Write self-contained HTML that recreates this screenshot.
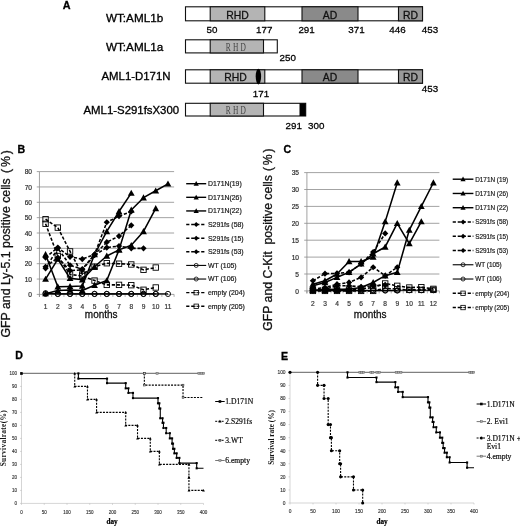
<!DOCTYPE html>
<html><head><meta charset="utf-8"><title>Figure</title>
<style>html,body{margin:0;padding:0;background:#fff;}svg{display:block;filter:blur(0.4px);}text{white-space:pre;}</style>
</head><body>
<svg width="520" height="526" viewBox="0 0 520 526">
<rect width="520" height="526" fill="#fff"/>
<text x="62.80" y="8.60" font-family='"Liberation Sans", sans-serif' font-size="10.8" text-anchor="start" font-weight="bold" fill="#000" stroke="#000" stroke-width="0.302" >A</text>
<text x="106.00" y="21.60" font-family='"Liberation Sans", sans-serif' font-size="11.7" text-anchor="start" font-weight="normal" fill="#000" stroke="#000" stroke-width="0.328" >WT:AML1b</text>
<text x="106.00" y="50.60" font-family='"Liberation Sans", sans-serif' font-size="11.7" text-anchor="start" font-weight="normal" fill="#000" stroke="#000" stroke-width="0.328" >WT:AML1a</text>
<text x="101.50" y="80.30" font-family='"Liberation Sans", sans-serif' font-size="11.4" text-anchor="start" font-weight="normal" fill="#000" stroke="#000" stroke-width="0.319" >AML1-D171N</text>
<text x="83.50" y="114.30" font-family='"Liberation Sans", sans-serif' font-size="11.4" text-anchor="start" font-weight="normal" fill="#000" stroke="#000" stroke-width="0.319" >AML1-S291fsX300</text>
<rect x="185.5" y="6.8" width="237.0" height="14.0" fill="#fff" stroke="#111" stroke-width="1.1"/>
<rect x="210.2" y="6.8" width="54.60000000000002" height="14.0" fill="#b4b4b4" stroke="#111" stroke-width="1.1"/>
<rect x="302" y="6.8" width="56" height="14.0" fill="#8a8a8a" stroke="#111" stroke-width="1.1"/>
<rect x="398.5" y="6.8" width="24.0" height="14.0" fill="#9a9a9a" stroke="#111" stroke-width="1.1"/>
<text x="237.60" y="18.60" font-family='"Liberation Sans", sans-serif' font-size="10.4" text-anchor="middle" font-weight="normal" fill="#111" stroke="#111" stroke-width="0.291" >RHD</text>
<text x="330.00" y="18.60" font-family='"Liberation Sans", sans-serif' font-size="10.4" text-anchor="middle" font-weight="normal" fill="#111" stroke="#111" stroke-width="0.291" >AD</text>
<text x="410.50" y="18.60" font-family='"Liberation Sans", sans-serif' font-size="10.4" text-anchor="middle" font-weight="normal" fill="#111" stroke="#111" stroke-width="0.291" >RD</text>
<text x="212.00" y="33.20" font-family='"Liberation Sans", sans-serif' font-size="9.8" text-anchor="middle" font-weight="normal" fill="#000" stroke="#000" stroke-width="0.274" >50</text>
<text x="264.30" y="33.20" font-family='"Liberation Sans", sans-serif' font-size="9.8" text-anchor="middle" font-weight="normal" fill="#000" stroke="#000" stroke-width="0.274" >177</text>
<text x="306.60" y="33.20" font-family='"Liberation Sans", sans-serif' font-size="9.8" text-anchor="middle" font-weight="normal" fill="#000" stroke="#000" stroke-width="0.274" >291</text>
<text x="356.50" y="33.20" font-family='"Liberation Sans", sans-serif' font-size="9.8" text-anchor="middle" font-weight="normal" fill="#000" stroke="#000" stroke-width="0.274" >371</text>
<text x="397.50" y="33.20" font-family='"Liberation Sans", sans-serif' font-size="9.8" text-anchor="middle" font-weight="normal" fill="#000" stroke="#000" stroke-width="0.274" >446</text>
<text x="430.00" y="33.20" font-family='"Liberation Sans", sans-serif' font-size="9.8" text-anchor="middle" font-weight="normal" fill="#000" stroke="#000" stroke-width="0.274" >453</text>
<rect x="185.5" y="39.8" width="91.80000000000001" height="13.100000000000001" fill="#fff" stroke="#111" stroke-width="1.1"/>
<rect x="210.2" y="39.8" width="53.30000000000001" height="13.100000000000001" fill="#b4b4b4" stroke="#111" stroke-width="1.1"/>
<text transform="translate(237,50.6) scale(0.62,1)" font-family='"Liberation Serif", serif' font-size="12" text-anchor="middle" fill="#444" letter-spacing="3.6">RHD</text>
<text x="287.70" y="60.60" font-family='"Liberation Sans", sans-serif' font-size="9.8" text-anchor="middle" font-weight="normal" fill="#000" stroke="#000" stroke-width="0.274" >250</text>
<rect x="185.5" y="69.8" width="237.0" height="13.400000000000006" fill="#fff" stroke="#111" stroke-width="1.1"/>
<rect x="210.2" y="69.8" width="54.60000000000002" height="13.400000000000006" fill="#b4b4b4" stroke="#111" stroke-width="1.1"/>
<rect x="302" y="69.8" width="56" height="13.400000000000006" fill="#8a8a8a" stroke="#111" stroke-width="1.1"/>
<rect x="398.5" y="69.8" width="24.0" height="13.400000000000006" fill="#9a9a9a" stroke="#111" stroke-width="1.1"/>
<text x="235.50" y="80.60" font-family='"Liberation Sans", sans-serif' font-size="10.4" text-anchor="middle" font-weight="normal" fill="#111" stroke="#111" stroke-width="0.291" >RHD</text>
<text x="330.00" y="80.60" font-family='"Liberation Sans", sans-serif' font-size="10.4" text-anchor="middle" font-weight="normal" fill="#111" stroke="#111" stroke-width="0.291" >AD</text>
<text x="410.50" y="80.60" font-family='"Liberation Sans", sans-serif' font-size="10.4" text-anchor="middle" font-weight="normal" fill="#111" stroke="#111" stroke-width="0.291" >RD</text>
<ellipse cx="258.4" cy="76.6" rx="2.7" ry="7.8" fill="#000"/>
<text x="261.00" y="96.70" font-family='"Liberation Sans", sans-serif' font-size="9.8" text-anchor="middle" font-weight="normal" fill="#000" stroke="#000" stroke-width="0.274" >171</text>
<text x="430.00" y="92.00" font-family='"Liberation Sans", sans-serif' font-size="9.8" text-anchor="middle" font-weight="normal" fill="#000" stroke="#000" stroke-width="0.274" >453</text>
<rect x="185.5" y="103.3" width="120.19999999999999" height="12.700000000000003" fill="#fff" stroke="#111" stroke-width="1.1"/>
<rect x="210.2" y="103.3" width="53.30000000000001" height="12.700000000000003" fill="#b4b4b4" stroke="#111" stroke-width="1.1"/>
<rect x="299.5" y="103.3" width="6.2" height="12.700000000000003" fill="#000"/>
<text transform="translate(237,114) scale(0.62,1)" font-family='"Liberation Serif", serif' font-size="12" text-anchor="middle" fill="#444" letter-spacing="3.6">RHD</text>
<text x="293.70" y="129.00" font-family='"Liberation Sans", sans-serif' font-size="9.8" text-anchor="middle" font-weight="normal" fill="#000" stroke="#000" stroke-width="0.274" >291</text>
<text x="316.20" y="129.00" font-family='"Liberation Sans", sans-serif' font-size="9.8" text-anchor="middle" font-weight="normal" fill="#000" stroke="#000" stroke-width="0.274" >300</text>
<text x="17.60" y="152.60" font-family='"Liberation Sans", sans-serif' font-size="10.6" text-anchor="start" font-weight="bold" fill="#000" stroke="#000" stroke-width="0.297" >B</text>
<line x1="36.75" y1="294.40" x2="39.45" y2="294.40" stroke="#8c8c8c" stroke-width="0.8"/>
<text x="32.00" y="297.00" font-family='"Liberation Sans", sans-serif' font-size="6.6" text-anchor="end" font-weight="normal" fill="#2a2a2a" stroke="#2a2a2a" stroke-width="0.185" >0</text>
<line x1="39.45" y1="279.05" x2="174.1" y2="279.05" stroke="#8c8c8c" stroke-width="0.8"/>
<line x1="36.75" y1="279.05" x2="39.45" y2="279.05" stroke="#8c8c8c" stroke-width="0.8"/>
<text x="32.00" y="281.65" font-family='"Liberation Sans", sans-serif' font-size="6.6" text-anchor="end" font-weight="normal" fill="#2a2a2a" stroke="#2a2a2a" stroke-width="0.185" >10</text>
<line x1="39.45" y1="263.70" x2="174.1" y2="263.70" stroke="#8c8c8c" stroke-width="0.8"/>
<line x1="36.75" y1="263.70" x2="39.45" y2="263.70" stroke="#8c8c8c" stroke-width="0.8"/>
<text x="32.00" y="266.30" font-family='"Liberation Sans", sans-serif' font-size="6.6" text-anchor="end" font-weight="normal" fill="#2a2a2a" stroke="#2a2a2a" stroke-width="0.185" >20</text>
<line x1="39.45" y1="248.35" x2="174.1" y2="248.35" stroke="#8c8c8c" stroke-width="0.8"/>
<line x1="36.75" y1="248.35" x2="39.45" y2="248.35" stroke="#8c8c8c" stroke-width="0.8"/>
<text x="32.00" y="250.95" font-family='"Liberation Sans", sans-serif' font-size="6.6" text-anchor="end" font-weight="normal" fill="#2a2a2a" stroke="#2a2a2a" stroke-width="0.185" >30</text>
<line x1="39.45" y1="233.00" x2="174.1" y2="233.00" stroke="#8c8c8c" stroke-width="0.8"/>
<line x1="36.75" y1="233.00" x2="39.45" y2="233.00" stroke="#8c8c8c" stroke-width="0.8"/>
<text x="32.00" y="235.60" font-family='"Liberation Sans", sans-serif' font-size="6.6" text-anchor="end" font-weight="normal" fill="#2a2a2a" stroke="#2a2a2a" stroke-width="0.185" >40</text>
<line x1="39.45" y1="217.65" x2="174.1" y2="217.65" stroke="#8c8c8c" stroke-width="0.8"/>
<line x1="36.75" y1="217.65" x2="39.45" y2="217.65" stroke="#8c8c8c" stroke-width="0.8"/>
<text x="32.00" y="220.25" font-family='"Liberation Sans", sans-serif' font-size="6.6" text-anchor="end" font-weight="normal" fill="#2a2a2a" stroke="#2a2a2a" stroke-width="0.185" >50</text>
<line x1="39.45" y1="202.30" x2="174.1" y2="202.30" stroke="#8c8c8c" stroke-width="0.8"/>
<line x1="36.75" y1="202.30" x2="39.45" y2="202.30" stroke="#8c8c8c" stroke-width="0.8"/>
<text x="32.00" y="204.90" font-family='"Liberation Sans", sans-serif' font-size="6.6" text-anchor="end" font-weight="normal" fill="#2a2a2a" stroke="#2a2a2a" stroke-width="0.185" >60</text>
<line x1="39.45" y1="186.95" x2="174.1" y2="186.95" stroke="#8c8c8c" stroke-width="0.8"/>
<line x1="36.75" y1="186.95" x2="39.45" y2="186.95" stroke="#8c8c8c" stroke-width="0.8"/>
<text x="32.00" y="189.55" font-family='"Liberation Sans", sans-serif' font-size="6.6" text-anchor="end" font-weight="normal" fill="#2a2a2a" stroke="#2a2a2a" stroke-width="0.185" >70</text>
<line x1="39.45" y1="171.60" x2="174.1" y2="171.60" stroke="#8c8c8c" stroke-width="0.8"/>
<line x1="36.75" y1="171.60" x2="39.45" y2="171.60" stroke="#8c8c8c" stroke-width="0.8"/>
<text x="32.00" y="174.20" font-family='"Liberation Sans", sans-serif' font-size="6.6" text-anchor="end" font-weight="normal" fill="#2a2a2a" stroke="#2a2a2a" stroke-width="0.185" >80</text>
<line x1="39.45" y1="171.6" x2="39.45" y2="296.9" stroke="#8c8c8c" stroke-width="0.8"/>
<line x1="39.45" y1="294.4" x2="174.1" y2="294.4" stroke="#8c8c8c" stroke-width="0.8"/>
<line x1="39.45" y1="294.4" x2="39.45" y2="296.9" stroke="#8c8c8c" stroke-width="0.7"/>
<line x1="51.69" y1="294.4" x2="51.69" y2="296.9" stroke="#8c8c8c" stroke-width="0.7"/>
<line x1="63.93" y1="294.4" x2="63.93" y2="296.9" stroke="#8c8c8c" stroke-width="0.7"/>
<line x1="76.17" y1="294.4" x2="76.17" y2="296.9" stroke="#8c8c8c" stroke-width="0.7"/>
<line x1="88.41" y1="294.4" x2="88.41" y2="296.9" stroke="#8c8c8c" stroke-width="0.7"/>
<line x1="100.65" y1="294.4" x2="100.65" y2="296.9" stroke="#8c8c8c" stroke-width="0.7"/>
<line x1="112.90" y1="294.4" x2="112.90" y2="296.9" stroke="#8c8c8c" stroke-width="0.7"/>
<line x1="125.14" y1="294.4" x2="125.14" y2="296.9" stroke="#8c8c8c" stroke-width="0.7"/>
<line x1="137.38" y1="294.4" x2="137.38" y2="296.9" stroke="#8c8c8c" stroke-width="0.7"/>
<line x1="149.62" y1="294.4" x2="149.62" y2="296.9" stroke="#8c8c8c" stroke-width="0.7"/>
<line x1="161.86" y1="294.4" x2="161.86" y2="296.9" stroke="#8c8c8c" stroke-width="0.7"/>
<line x1="174.10" y1="294.4" x2="174.10" y2="296.9" stroke="#8c8c8c" stroke-width="0.7"/>
<text x="45.57" y="309.00" font-family='"Liberation Sans", sans-serif' font-size="6.6" text-anchor="middle" font-weight="normal" fill="#333" stroke="#333" stroke-width="0.185" >1</text>
<text x="57.81" y="309.00" font-family='"Liberation Sans", sans-serif' font-size="6.6" text-anchor="middle" font-weight="normal" fill="#333" stroke="#333" stroke-width="0.185" >2</text>
<text x="70.05" y="309.00" font-family='"Liberation Sans", sans-serif' font-size="6.6" text-anchor="middle" font-weight="normal" fill="#333" stroke="#333" stroke-width="0.185" >3</text>
<text x="82.29" y="309.00" font-family='"Liberation Sans", sans-serif' font-size="6.6" text-anchor="middle" font-weight="normal" fill="#333" stroke="#333" stroke-width="0.185" >4</text>
<text x="94.53" y="309.00" font-family='"Liberation Sans", sans-serif' font-size="6.6" text-anchor="middle" font-weight="normal" fill="#333" stroke="#333" stroke-width="0.185" >5</text>
<text x="106.77" y="309.00" font-family='"Liberation Sans", sans-serif' font-size="6.6" text-anchor="middle" font-weight="normal" fill="#333" stroke="#333" stroke-width="0.185" >6</text>
<text x="119.02" y="309.00" font-family='"Liberation Sans", sans-serif' font-size="6.6" text-anchor="middle" font-weight="normal" fill="#333" stroke="#333" stroke-width="0.185" >7</text>
<text x="131.26" y="309.00" font-family='"Liberation Sans", sans-serif' font-size="6.6" text-anchor="middle" font-weight="normal" fill="#333" stroke="#333" stroke-width="0.185" >8</text>
<text x="143.50" y="309.00" font-family='"Liberation Sans", sans-serif' font-size="6.6" text-anchor="middle" font-weight="normal" fill="#333" stroke="#333" stroke-width="0.185" >9</text>
<text x="155.74" y="309.00" font-family='"Liberation Sans", sans-serif' font-size="6.6" text-anchor="middle" font-weight="normal" fill="#333" stroke="#333" stroke-width="0.185" >10</text>
<text x="167.98" y="309.00" font-family='"Liberation Sans", sans-serif' font-size="6.6" text-anchor="middle" font-weight="normal" fill="#333" stroke="#333" stroke-width="0.185" >11</text>
<polyline points="45.57,219.19 57.81,227.63 70.05,251.42 82.29,274.44 94.53,266.77 106.77,263.24 119.02,263.70 131.26,264.47 143.50,269.84 155.74,267.54" fill="none" stroke="#000" stroke-width="1.55" stroke-dasharray="3.2,1.8" stroke-linejoin="round"/>
<rect x="42.87" y="216.49" width="5.4" height="5.4" fill="none" stroke="#000" stroke-width="0.9"/>
<rect x="55.11" y="224.93" width="5.4" height="5.4" fill="none" stroke="#000" stroke-width="0.9"/>
<rect x="67.35" y="248.72" width="5.4" height="5.4" fill="none" stroke="#000" stroke-width="0.9"/>
<rect x="79.59" y="271.75" width="5.4" height="5.4" fill="none" stroke="#000" stroke-width="0.9"/>
<rect x="91.83" y="264.07" width="5.4" height="5.4" fill="none" stroke="#000" stroke-width="0.9"/>
<rect x="104.07" y="260.54" width="5.4" height="5.4" fill="none" stroke="#000" stroke-width="0.9"/>
<rect x="116.32" y="261.00" width="5.4" height="5.4" fill="none" stroke="#000" stroke-width="0.9"/>
<rect x="128.56" y="261.77" width="5.4" height="5.4" fill="none" stroke="#000" stroke-width="0.9"/>
<rect x="140.80" y="267.14" width="5.4" height="5.4" fill="none" stroke="#000" stroke-width="0.9"/>
<rect x="153.04" y="264.84" width="5.4" height="5.4" fill="none" stroke="#000" stroke-width="0.9"/>
<polyline points="45.57,223.79 57.81,256.02 70.05,274.44 82.29,275.98 94.53,280.58 106.77,284.88 119.02,284.88 131.26,285.19 143.50,289.79 155.74,287.49" fill="none" stroke="#000" stroke-width="1.55" stroke-dasharray="3.2,1.8" stroke-linejoin="round"/>
<rect x="42.87" y="221.09" width="5.4" height="5.4" fill="none" stroke="#000" stroke-width="0.9"/>
<rect x="55.11" y="253.32" width="5.4" height="5.4" fill="none" stroke="#000" stroke-width="0.9"/>
<rect x="67.35" y="271.75" width="5.4" height="5.4" fill="none" stroke="#000" stroke-width="0.9"/>
<rect x="79.59" y="273.28" width="5.4" height="5.4" fill="none" stroke="#000" stroke-width="0.9"/>
<rect x="91.83" y="277.88" width="5.4" height="5.4" fill="none" stroke="#000" stroke-width="0.9"/>
<rect x="104.07" y="282.18" width="5.4" height="5.4" fill="none" stroke="#000" stroke-width="0.9"/>
<rect x="116.32" y="282.18" width="5.4" height="5.4" fill="none" stroke="#000" stroke-width="0.9"/>
<rect x="128.56" y="282.49" width="5.4" height="5.4" fill="none" stroke="#000" stroke-width="0.9"/>
<rect x="140.80" y="287.09" width="5.4" height="5.4" fill="none" stroke="#000" stroke-width="0.9"/>
<rect x="153.04" y="284.79" width="5.4" height="5.4" fill="none" stroke="#000" stroke-width="0.9"/>
<polyline points="45.57,293.94 57.81,293.94 70.05,293.94 82.29,293.94 94.53,293.94 106.77,293.94 119.02,293.94 131.26,293.94 143.50,293.94 155.74,293.94 167.98,293.94" fill="none" stroke="#000" stroke-width="1.15" stroke-linejoin="round"/>
<circle cx="45.57" cy="293.94" r="2.6" fill="none" stroke="#000" stroke-width="0.9"/>
<circle cx="57.81" cy="293.94" r="2.6" fill="none" stroke="#000" stroke-width="0.9"/>
<circle cx="70.05" cy="293.94" r="2.6" fill="none" stroke="#000" stroke-width="0.9"/>
<circle cx="82.29" cy="293.94" r="2.6" fill="none" stroke="#000" stroke-width="0.9"/>
<circle cx="94.53" cy="293.94" r="2.6" fill="none" stroke="#000" stroke-width="0.9"/>
<circle cx="106.77" cy="293.94" r="2.6" fill="none" stroke="#000" stroke-width="0.9"/>
<circle cx="119.02" cy="293.94" r="2.6" fill="none" stroke="#000" stroke-width="0.9"/>
<circle cx="131.26" cy="293.94" r="2.6" fill="none" stroke="#000" stroke-width="0.9"/>
<circle cx="143.50" cy="293.94" r="2.6" fill="none" stroke="#000" stroke-width="0.9"/>
<circle cx="155.74" cy="293.94" r="2.6" fill="none" stroke="#000" stroke-width="0.9"/>
<circle cx="167.98" cy="293.94" r="2.6" fill="none" stroke="#000" stroke-width="0.9"/>
<polyline points="45.57,293.17 57.81,293.94 70.05,293.94 82.29,293.94 94.53,293.94 106.77,293.94 119.02,293.94 131.26,293.94 143.50,293.94 155.74,293.94" fill="none" stroke="#000" stroke-width="1.15" stroke-linejoin="round"/>
<circle cx="45.57" cy="293.17" r="2.6" fill="none" stroke="#000" stroke-width="0.9"/>
<circle cx="57.81" cy="293.94" r="2.6" fill="none" stroke="#000" stroke-width="0.9"/>
<circle cx="70.05" cy="293.94" r="2.6" fill="none" stroke="#000" stroke-width="0.9"/>
<circle cx="82.29" cy="293.94" r="2.6" fill="none" stroke="#000" stroke-width="0.9"/>
<circle cx="94.53" cy="293.94" r="2.6" fill="none" stroke="#000" stroke-width="0.9"/>
<circle cx="106.77" cy="293.94" r="2.6" fill="none" stroke="#000" stroke-width="0.9"/>
<circle cx="119.02" cy="293.94" r="2.6" fill="none" stroke="#000" stroke-width="0.9"/>
<circle cx="131.26" cy="293.94" r="2.6" fill="none" stroke="#000" stroke-width="0.9"/>
<circle cx="143.50" cy="293.94" r="2.6" fill="none" stroke="#000" stroke-width="0.9"/>
<circle cx="155.74" cy="293.94" r="2.6" fill="none" stroke="#000" stroke-width="0.9"/>
<polyline points="45.57,257.56 57.81,247.58 70.05,256.79 82.29,259.09 94.53,254.49 106.77,222.25 119.02,216.12 131.26,211.51" fill="none" stroke="#000" stroke-width="1.55" stroke-dasharray="3.2,1.8" stroke-linejoin="round"/>
<path d="M45.57,254.46 L48.67,257.56 L45.57,260.66 L42.47,257.56 Z" fill="#000"/>
<path d="M57.81,244.48 L60.91,247.58 L57.81,250.68 L54.71,247.58 Z" fill="#000"/>
<path d="M70.05,253.69 L73.15,256.79 L70.05,259.89 L66.95,256.79 Z" fill="#000"/>
<path d="M82.29,255.99 L85.39,259.09 L82.29,262.19 L79.19,259.09 Z" fill="#000"/>
<path d="M94.53,251.39 L97.63,254.49 L94.53,257.59 L91.43,254.49 Z" fill="#000"/>
<path d="M106.77,219.16 L109.87,222.25 L106.77,225.35 L103.67,222.25 Z" fill="#000"/>
<path d="M119.02,213.02 L122.12,216.12 L119.02,219.22 L115.92,216.12 Z" fill="#000"/>
<path d="M131.26,208.41 L134.36,211.51 L131.26,214.61 L128.16,211.51 Z" fill="#000"/>
<polyline points="45.57,268.31 57.81,248.35 70.05,265.23 82.29,269.07 94.53,254.49 106.77,242.21 119.02,236.07 131.26,225.32" fill="none" stroke="#000" stroke-width="1.55" stroke-dasharray="3.2,1.8" stroke-linejoin="round"/>
<path d="M45.57,265.20 L48.67,268.31 L45.57,271.41 L42.47,268.31 Z" fill="#000"/>
<path d="M57.81,245.25 L60.91,248.35 L57.81,251.45 L54.71,248.35 Z" fill="#000"/>
<path d="M70.05,262.13 L73.15,265.23 L70.05,268.33 L66.95,265.23 Z" fill="#000"/>
<path d="M82.29,265.97 L85.39,269.07 L82.29,272.17 L79.19,269.07 Z" fill="#000"/>
<path d="M94.53,251.39 L97.63,254.49 L94.53,257.59 L91.43,254.49 Z" fill="#000"/>
<path d="M106.77,239.11 L109.87,242.21 L106.77,245.31 L103.67,242.21 Z" fill="#000"/>
<path d="M119.02,232.97 L122.12,236.07 L119.02,239.17 L115.92,236.07 Z" fill="#000"/>
<path d="M131.26,222.22 L134.36,225.32 L131.26,228.42 L128.16,225.32 Z" fill="#000"/>
<polyline points="45.57,266.77 57.81,257.56 70.05,270.61 82.29,269.84 94.53,255.26 106.77,247.58 119.02,246.05 131.26,248.35 143.50,248.35" fill="none" stroke="#000" stroke-width="1.55" stroke-dasharray="3.2,1.8" stroke-linejoin="round"/>
<path d="M45.57,263.67 L48.67,266.77 L45.57,269.87 L42.47,266.77 Z" fill="#000"/>
<path d="M57.81,254.46 L60.91,257.56 L57.81,260.66 L54.71,257.56 Z" fill="#000"/>
<path d="M70.05,267.51 L73.15,270.61 L70.05,273.71 L66.95,270.61 Z" fill="#000"/>
<path d="M82.29,266.74 L85.39,269.84 L82.29,272.94 L79.19,269.84 Z" fill="#000"/>
<path d="M94.53,252.16 L97.63,255.26 L94.53,258.36 L91.43,255.26 Z" fill="#000"/>
<path d="M106.77,244.48 L109.87,247.58 L106.77,250.68 L103.67,247.58 Z" fill="#000"/>
<path d="M119.02,242.95 L122.12,246.05 L119.02,249.15 L115.92,246.05 Z" fill="#000"/>
<path d="M131.26,245.25 L134.36,248.35 L131.26,251.45 L128.16,248.35 Z" fill="#000"/>
<path d="M143.50,245.25 L146.60,248.35 L143.50,251.45 L140.40,248.35 Z" fill="#000"/>
<polyline points="45.57,279.05 57.81,259.09 70.05,278.28 82.29,279.82 94.53,266.77 106.77,256.02 119.02,249.88 131.26,245.28 143.50,231.46 155.74,208.44" fill="none" stroke="#000" stroke-width="1.55" stroke-linejoin="round"/>
<path d="M45.57,275.65 L48.97,281.77 L42.17,281.77 Z" fill="#000"/>
<path d="M57.81,255.69 L61.21,261.81 L54.41,261.81 Z" fill="#000"/>
<path d="M70.05,274.88 L73.45,281.00 L66.65,281.00 Z" fill="#000"/>
<path d="M82.29,276.42 L85.69,282.54 L78.89,282.54 Z" fill="#000"/>
<path d="M94.53,263.37 L97.93,269.49 L91.13,269.49 Z" fill="#000"/>
<path d="M106.77,252.62 L110.17,258.75 L103.37,258.75 Z" fill="#000"/>
<path d="M119.02,246.48 L122.42,252.60 L115.62,252.60 Z" fill="#000"/>
<path d="M131.26,241.88 L134.66,248.00 L127.86,248.00 Z" fill="#000"/>
<path d="M143.50,228.06 L146.90,234.18 L140.10,234.18 Z" fill="#000"/>
<path d="M155.74,205.04 L159.14,211.16 L152.34,211.16 Z" fill="#000"/>
<polyline points="45.57,254.49 57.81,286.72 70.05,286.42 82.29,285.96 94.53,254.49 106.77,231.46 119.02,211.51 131.26,193.09" fill="none" stroke="#000" stroke-width="1.55" stroke-linejoin="round"/>
<path d="M45.57,251.09 L48.97,257.21 L42.17,257.21 Z" fill="#000"/>
<path d="M57.81,283.32 L61.21,289.44 L54.41,289.44 Z" fill="#000"/>
<path d="M70.05,283.02 L73.45,289.14 L66.65,289.14 Z" fill="#000"/>
<path d="M82.29,282.56 L85.69,288.68 L78.89,288.68 Z" fill="#000"/>
<path d="M94.53,251.09 L97.93,257.21 L91.13,257.21 Z" fill="#000"/>
<path d="M106.77,228.06 L110.17,234.18 L103.37,234.18 Z" fill="#000"/>
<path d="M119.02,208.11 L122.42,214.23 L115.62,214.23 Z" fill="#000"/>
<path d="M131.26,189.69 L134.66,195.81 L127.86,195.81 Z" fill="#000"/>
<polyline points="45.57,293.63 57.81,290.56 70.05,290.10 82.29,290.56 94.53,285.19 106.77,280.58 119.02,249.88 131.26,209.97 143.50,197.69 155.74,190.79 167.98,183.88" fill="none" stroke="#000" stroke-width="1.55" stroke-linejoin="round"/>
<path d="M45.57,290.23 L48.97,296.35 L42.17,296.35 Z" fill="#000"/>
<path d="M57.81,287.16 L61.21,293.28 L54.41,293.28 Z" fill="#000"/>
<path d="M70.05,286.70 L73.45,292.82 L66.65,292.82 Z" fill="#000"/>
<path d="M82.29,287.16 L85.69,293.28 L78.89,293.28 Z" fill="#000"/>
<path d="M94.53,281.79 L97.93,287.91 L91.13,287.91 Z" fill="#000"/>
<path d="M106.77,277.19 L110.17,283.31 L103.37,283.31 Z" fill="#000"/>
<path d="M119.02,246.48 L122.42,252.60 L115.62,252.60 Z" fill="#000"/>
<path d="M131.26,206.57 L134.66,212.69 L127.86,212.69 Z" fill="#000"/>
<path d="M143.50,194.29 L146.90,200.41 L140.10,200.41 Z" fill="#000"/>
<path d="M155.74,187.39 L159.14,193.51 L152.34,193.51 Z" fill="#000"/>
<path d="M167.98,180.48 L171.38,186.60 L164.58,186.60 Z" fill="#000"/>
<text transform="translate(10.0,337.5) rotate(-90)" font-family='"Liberation Sans", sans-serif' font-size="12.3" text-anchor="start" fill="#111" stroke="#111" stroke-width="0.3" xml:space="preserve">GFP and Ly-5.1 positive cells</text>
<text transform="translate(10.0,173.0) rotate(-90)" font-family='"Liberation Sans", sans-serif' font-size="12.3" text-anchor="start" fill="#111" stroke="#111" stroke-width="0.3" letter-spacing="1.8">(%)</text>
<text x="84.80" y="317.70" font-family='"Liberation Sans", sans-serif' font-size="10" text-anchor="start" font-weight="normal" fill="#111" stroke="#111" stroke-width="0.280" >months</text>
<polyline points="186.20,183.70 206.20,183.70" fill="none" stroke="#000" stroke-width="1.4" stroke-linejoin="round"/>
<path d="M196.20,181.10 L198.80,185.78 L193.60,185.78 Z" fill="#000"/>
<text x="208.00" y="186.10" font-family='"Liberation Sans", sans-serif' font-size="6.9" text-anchor="start" font-weight="normal" fill="#1a1a1a" stroke="#1a1a1a" stroke-width="0.193" >D171N(19)</text>
<polyline points="186.20,197.32 206.20,197.32" fill="none" stroke="#000" stroke-width="1.4" stroke-linejoin="round"/>
<path d="M196.20,194.72 L198.80,199.40 L193.60,199.40 Z" fill="#000"/>
<text x="208.00" y="199.72" font-family='"Liberation Sans", sans-serif' font-size="6.9" text-anchor="start" font-weight="normal" fill="#1a1a1a" stroke="#1a1a1a" stroke-width="0.193" >D171N(26)</text>
<polyline points="186.20,210.94 206.20,210.94" fill="none" stroke="#000" stroke-width="1.4" stroke-linejoin="round"/>
<path d="M196.20,208.34 L198.80,213.02 L193.60,213.02 Z" fill="#000"/>
<text x="208.00" y="213.34" font-family='"Liberation Sans", sans-serif' font-size="6.9" text-anchor="start" font-weight="normal" fill="#1a1a1a" stroke="#1a1a1a" stroke-width="0.193" >D171N(22)</text>
<polyline points="186.20,224.56 206.20,224.56" fill="none" stroke="#000" stroke-width="1.4" stroke-dasharray="3.2,1.8" stroke-linejoin="round"/>
<path d="M196.20,222.06 L198.70,224.56 L196.20,227.06 L193.70,224.56 Z" fill="#000"/>
<text x="208.00" y="226.96" font-family='"Liberation Sans", sans-serif' font-size="6.9" text-anchor="start" font-weight="normal" fill="#1a1a1a" stroke="#1a1a1a" stroke-width="0.193" >S291fs (58)</text>
<polyline points="186.20,238.18 206.20,238.18" fill="none" stroke="#000" stroke-width="1.4" stroke-dasharray="3.2,1.8" stroke-linejoin="round"/>
<path d="M196.20,235.68 L198.70,238.18 L196.20,240.68 L193.70,238.18 Z" fill="#000"/>
<text x="208.00" y="240.58" font-family='"Liberation Sans", sans-serif' font-size="6.9" text-anchor="start" font-weight="normal" fill="#1a1a1a" stroke="#1a1a1a" stroke-width="0.193" >S291fs (15)</text>
<polyline points="186.20,251.80 206.20,251.80" fill="none" stroke="#000" stroke-width="1.4" stroke-dasharray="3.2,1.8" stroke-linejoin="round"/>
<path d="M196.20,249.30 L198.70,251.80 L196.20,254.30 L193.70,251.80 Z" fill="#000"/>
<text x="208.00" y="254.20" font-family='"Liberation Sans", sans-serif' font-size="6.9" text-anchor="start" font-weight="normal" fill="#1a1a1a" stroke="#1a1a1a" stroke-width="0.193" >S291fs (53)</text>
<polyline points="186.20,265.42 206.20,265.42" fill="none" stroke="#000" stroke-width="1.1" stroke-linejoin="round"/>
<circle cx="196.20" cy="265.42" r="2" fill="#fff" stroke="#000" stroke-width="0.8"/>
<line x1="194.2" y1="265.41999999999996" x2="198.2" y2="265.41999999999996" stroke="#000" stroke-width="1"/>
<text x="208.00" y="267.82" font-family='"Liberation Sans", sans-serif' font-size="6.9" text-anchor="start" font-weight="normal" fill="#1a1a1a" stroke="#1a1a1a" stroke-width="0.193" >WT (105)</text>
<polyline points="186.20,279.04 206.20,279.04" fill="none" stroke="#000" stroke-width="1.1" stroke-linejoin="round"/>
<circle cx="196.20" cy="279.04" r="2" fill="#fff" stroke="#000" stroke-width="0.8"/>
<line x1="194.2" y1="279.03999999999996" x2="198.2" y2="279.03999999999996" stroke="#000" stroke-width="1"/>
<text x="208.00" y="281.44" font-family='"Liberation Sans", sans-serif' font-size="6.9" text-anchor="start" font-weight="normal" fill="#1a1a1a" stroke="#1a1a1a" stroke-width="0.193" >WT (106)</text>
<polyline points="186.20,292.66 206.20,292.66" fill="none" stroke="#000" stroke-width="1.4" stroke-dasharray="3.2,1.8" stroke-linejoin="round"/>
<rect x="194.00" y="290.46" width="4.4" height="4.4" fill="#fff" stroke="#000" stroke-width="0.8"/>
<line x1="194.0" y1="292.65999999999997" x2="198.39999999999998" y2="292.65999999999997" stroke="#000" stroke-width="1" stroke-dasharray="1.5,1"/>
<text x="208.00" y="295.06" font-family='"Liberation Sans", sans-serif' font-size="6.9" text-anchor="start" font-weight="normal" fill="#1a1a1a" stroke="#1a1a1a" stroke-width="0.193" >empty (204)</text>
<polyline points="186.20,306.28 206.20,306.28" fill="none" stroke="#000" stroke-width="1.4" stroke-dasharray="3.2,1.8" stroke-linejoin="round"/>
<rect x="194.00" y="304.08" width="4.4" height="4.4" fill="#fff" stroke="#000" stroke-width="0.8"/>
<line x1="194.0" y1="306.28" x2="198.39999999999998" y2="306.28" stroke="#000" stroke-width="1" stroke-dasharray="1.5,1"/>
<text x="208.00" y="308.68" font-family='"Liberation Sans", sans-serif' font-size="6.9" text-anchor="start" font-weight="normal" fill="#1a1a1a" stroke="#1a1a1a" stroke-width="0.193" >empty (205)</text>
<text x="283.60" y="152.70" font-family='"Liberation Sans", sans-serif' font-size="10.6" text-anchor="start" font-weight="bold" fill="#000" stroke="#000" stroke-width="0.297" >C</text>
<line x1="304.2" y1="290.90" x2="306.9" y2="290.90" stroke="#8c8c8c" stroke-width="0.8"/>
<text x="299.00" y="293.50" font-family='"Liberation Sans", sans-serif' font-size="6.6" text-anchor="end" font-weight="normal" fill="#2a2a2a" stroke="#2a2a2a" stroke-width="0.185" >0</text>
<line x1="306.9" y1="274.00" x2="439.4" y2="274.00" stroke="#8c8c8c" stroke-width="0.8"/>
<line x1="304.2" y1="274.00" x2="306.9" y2="274.00" stroke="#8c8c8c" stroke-width="0.8"/>
<text x="299.00" y="276.60" font-family='"Liberation Sans", sans-serif' font-size="6.6" text-anchor="end" font-weight="normal" fill="#2a2a2a" stroke="#2a2a2a" stroke-width="0.185" >5</text>
<line x1="306.9" y1="257.10" x2="439.4" y2="257.10" stroke="#8c8c8c" stroke-width="0.8"/>
<line x1="304.2" y1="257.10" x2="306.9" y2="257.10" stroke="#8c8c8c" stroke-width="0.8"/>
<text x="299.00" y="259.70" font-family='"Liberation Sans", sans-serif' font-size="6.6" text-anchor="end" font-weight="normal" fill="#2a2a2a" stroke="#2a2a2a" stroke-width="0.185" >10</text>
<line x1="306.9" y1="240.20" x2="439.4" y2="240.20" stroke="#8c8c8c" stroke-width="0.8"/>
<line x1="304.2" y1="240.20" x2="306.9" y2="240.20" stroke="#8c8c8c" stroke-width="0.8"/>
<text x="299.00" y="242.80" font-family='"Liberation Sans", sans-serif' font-size="6.6" text-anchor="end" font-weight="normal" fill="#2a2a2a" stroke="#2a2a2a" stroke-width="0.185" >15</text>
<line x1="306.9" y1="223.30" x2="439.4" y2="223.30" stroke="#8c8c8c" stroke-width="0.8"/>
<line x1="304.2" y1="223.30" x2="306.9" y2="223.30" stroke="#8c8c8c" stroke-width="0.8"/>
<text x="299.00" y="225.90" font-family='"Liberation Sans", sans-serif' font-size="6.6" text-anchor="end" font-weight="normal" fill="#2a2a2a" stroke="#2a2a2a" stroke-width="0.185" >20</text>
<line x1="306.9" y1="206.40" x2="439.4" y2="206.40" stroke="#8c8c8c" stroke-width="0.8"/>
<line x1="304.2" y1="206.40" x2="306.9" y2="206.40" stroke="#8c8c8c" stroke-width="0.8"/>
<text x="299.00" y="209.00" font-family='"Liberation Sans", sans-serif' font-size="6.6" text-anchor="end" font-weight="normal" fill="#2a2a2a" stroke="#2a2a2a" stroke-width="0.185" >25</text>
<line x1="306.9" y1="189.50" x2="439.4" y2="189.50" stroke="#8c8c8c" stroke-width="0.8"/>
<line x1="304.2" y1="189.50" x2="306.9" y2="189.50" stroke="#8c8c8c" stroke-width="0.8"/>
<text x="299.00" y="192.10" font-family='"Liberation Sans", sans-serif' font-size="6.6" text-anchor="end" font-weight="normal" fill="#2a2a2a" stroke="#2a2a2a" stroke-width="0.185" >30</text>
<line x1="306.9" y1="172.60" x2="439.4" y2="172.60" stroke="#8c8c8c" stroke-width="0.8"/>
<line x1="304.2" y1="172.60" x2="306.9" y2="172.60" stroke="#8c8c8c" stroke-width="0.8"/>
<text x="299.00" y="175.20" font-family='"Liberation Sans", sans-serif' font-size="6.6" text-anchor="end" font-weight="normal" fill="#2a2a2a" stroke="#2a2a2a" stroke-width="0.185" >35</text>
<line x1="306.9" y1="172.6" x2="306.9" y2="293.4" stroke="#8c8c8c" stroke-width="0.8"/>
<line x1="306.9" y1="290.9" x2="439.4" y2="290.9" stroke="#8c8c8c" stroke-width="0.8"/>
<line x1="306.90" y1="290.9" x2="306.90" y2="293.4" stroke="#8c8c8c" stroke-width="0.7"/>
<line x1="318.95" y1="290.9" x2="318.95" y2="293.4" stroke="#8c8c8c" stroke-width="0.7"/>
<line x1="330.99" y1="290.9" x2="330.99" y2="293.4" stroke="#8c8c8c" stroke-width="0.7"/>
<line x1="343.04" y1="290.9" x2="343.04" y2="293.4" stroke="#8c8c8c" stroke-width="0.7"/>
<line x1="355.08" y1="290.9" x2="355.08" y2="293.4" stroke="#8c8c8c" stroke-width="0.7"/>
<line x1="367.13" y1="290.9" x2="367.13" y2="293.4" stroke="#8c8c8c" stroke-width="0.7"/>
<line x1="379.17" y1="290.9" x2="379.17" y2="293.4" stroke="#8c8c8c" stroke-width="0.7"/>
<line x1="391.22" y1="290.9" x2="391.22" y2="293.4" stroke="#8c8c8c" stroke-width="0.7"/>
<line x1="403.26" y1="290.9" x2="403.26" y2="293.4" stroke="#8c8c8c" stroke-width="0.7"/>
<line x1="415.31" y1="290.9" x2="415.31" y2="293.4" stroke="#8c8c8c" stroke-width="0.7"/>
<line x1="427.35" y1="290.9" x2="427.35" y2="293.4" stroke="#8c8c8c" stroke-width="0.7"/>
<line x1="439.40" y1="290.9" x2="439.40" y2="293.4" stroke="#8c8c8c" stroke-width="0.7"/>
<text x="312.92" y="306.00" font-family='"Liberation Sans", sans-serif' font-size="6.6" text-anchor="middle" font-weight="normal" fill="#333" stroke="#333" stroke-width="0.185" >2</text>
<text x="324.97" y="306.00" font-family='"Liberation Sans", sans-serif' font-size="6.6" text-anchor="middle" font-weight="normal" fill="#333" stroke="#333" stroke-width="0.185" >3</text>
<text x="337.01" y="306.00" font-family='"Liberation Sans", sans-serif' font-size="6.6" text-anchor="middle" font-weight="normal" fill="#333" stroke="#333" stroke-width="0.185" >4</text>
<text x="349.06" y="306.00" font-family='"Liberation Sans", sans-serif' font-size="6.6" text-anchor="middle" font-weight="normal" fill="#333" stroke="#333" stroke-width="0.185" >5</text>
<text x="361.10" y="306.00" font-family='"Liberation Sans", sans-serif' font-size="6.6" text-anchor="middle" font-weight="normal" fill="#333" stroke="#333" stroke-width="0.185" >6</text>
<text x="373.15" y="306.00" font-family='"Liberation Sans", sans-serif' font-size="6.6" text-anchor="middle" font-weight="normal" fill="#333" stroke="#333" stroke-width="0.185" >7</text>
<text x="385.20" y="306.00" font-family='"Liberation Sans", sans-serif' font-size="6.6" text-anchor="middle" font-weight="normal" fill="#333" stroke="#333" stroke-width="0.185" >8</text>
<text x="397.24" y="306.00" font-family='"Liberation Sans", sans-serif' font-size="6.6" text-anchor="middle" font-weight="normal" fill="#333" stroke="#333" stroke-width="0.185" >9</text>
<text x="409.29" y="306.00" font-family='"Liberation Sans", sans-serif' font-size="6.6" text-anchor="middle" font-weight="normal" fill="#333" stroke="#333" stroke-width="0.185" >10</text>
<text x="421.33" y="306.00" font-family='"Liberation Sans", sans-serif' font-size="6.6" text-anchor="middle" font-weight="normal" fill="#333" stroke="#333" stroke-width="0.185" >11</text>
<text x="433.38" y="306.00" font-family='"Liberation Sans", sans-serif' font-size="6.6" text-anchor="middle" font-weight="normal" fill="#333" stroke="#333" stroke-width="0.185" >12</text>
<polyline points="312.92,289.89 324.97,289.89 337.01,289.89 349.06,289.55 361.10,288.87 373.15,287.52 385.20,283.46 397.24,285.83 409.29,287.52 421.33,287.18 433.38,288.87" fill="none" stroke="#000" stroke-width="1.55" stroke-dasharray="3.2,1.8" stroke-linejoin="round"/>
<rect x="310.22" y="287.19" width="5.4" height="5.4" fill="none" stroke="#000" stroke-width="0.9"/>
<rect x="322.27" y="287.19" width="5.4" height="5.4" fill="none" stroke="#000" stroke-width="0.9"/>
<rect x="334.31" y="287.19" width="5.4" height="5.4" fill="none" stroke="#000" stroke-width="0.9"/>
<rect x="346.36" y="286.85" width="5.4" height="5.4" fill="none" stroke="#000" stroke-width="0.9"/>
<rect x="358.40" y="286.17" width="5.4" height="5.4" fill="none" stroke="#000" stroke-width="0.9"/>
<rect x="370.45" y="284.82" width="5.4" height="5.4" fill="none" stroke="#000" stroke-width="0.9"/>
<rect x="382.50" y="280.76" width="5.4" height="5.4" fill="none" stroke="#000" stroke-width="0.9"/>
<rect x="394.54" y="283.13" width="5.4" height="5.4" fill="none" stroke="#000" stroke-width="0.9"/>
<rect x="406.59" y="284.82" width="5.4" height="5.4" fill="none" stroke="#000" stroke-width="0.9"/>
<rect x="418.63" y="284.48" width="5.4" height="5.4" fill="none" stroke="#000" stroke-width="0.9"/>
<rect x="430.68" y="286.17" width="5.4" height="5.4" fill="none" stroke="#000" stroke-width="0.9"/>
<polyline points="312.92,290.90 324.97,290.90 337.01,290.90 349.06,290.90 361.10,290.90 373.15,290.90 385.20,288.20 397.24,289.21 409.29,289.89 421.33,289.89 433.38,289.89" fill="none" stroke="#000" stroke-width="1.55" stroke-dasharray="3.2,1.8" stroke-linejoin="round"/>
<rect x="310.22" y="288.20" width="5.4" height="5.4" fill="none" stroke="#000" stroke-width="0.9"/>
<rect x="322.27" y="288.20" width="5.4" height="5.4" fill="none" stroke="#000" stroke-width="0.9"/>
<rect x="334.31" y="288.20" width="5.4" height="5.4" fill="none" stroke="#000" stroke-width="0.9"/>
<rect x="346.36" y="288.20" width="5.4" height="5.4" fill="none" stroke="#000" stroke-width="0.9"/>
<rect x="358.40" y="288.20" width="5.4" height="5.4" fill="none" stroke="#000" stroke-width="0.9"/>
<rect x="370.45" y="288.20" width="5.4" height="5.4" fill="none" stroke="#000" stroke-width="0.9"/>
<rect x="382.50" y="285.50" width="5.4" height="5.4" fill="none" stroke="#000" stroke-width="0.9"/>
<rect x="394.54" y="286.51" width="5.4" height="5.4" fill="none" stroke="#000" stroke-width="0.9"/>
<rect x="406.59" y="287.19" width="5.4" height="5.4" fill="none" stroke="#000" stroke-width="0.9"/>
<rect x="418.63" y="287.19" width="5.4" height="5.4" fill="none" stroke="#000" stroke-width="0.9"/>
<rect x="430.68" y="287.19" width="5.4" height="5.4" fill="none" stroke="#000" stroke-width="0.9"/>
<polyline points="312.92,290.22 324.97,290.22 337.01,290.22 349.06,290.22 361.10,290.22 373.15,290.22 385.20,290.22 397.24,290.22 409.29,290.22 421.33,290.22 433.38,290.22" fill="none" stroke="#000" stroke-width="1.15" stroke-linejoin="round"/>
<circle cx="312.92" cy="290.22" r="2.6" fill="none" stroke="#000" stroke-width="0.9"/>
<circle cx="324.97" cy="290.22" r="2.6" fill="none" stroke="#000" stroke-width="0.9"/>
<circle cx="337.01" cy="290.22" r="2.6" fill="none" stroke="#000" stroke-width="0.9"/>
<circle cx="349.06" cy="290.22" r="2.6" fill="none" stroke="#000" stroke-width="0.9"/>
<circle cx="361.10" cy="290.22" r="2.6" fill="none" stroke="#000" stroke-width="0.9"/>
<circle cx="373.15" cy="290.22" r="2.6" fill="none" stroke="#000" stroke-width="0.9"/>
<circle cx="385.20" cy="290.22" r="2.6" fill="none" stroke="#000" stroke-width="0.9"/>
<circle cx="397.24" cy="290.22" r="2.6" fill="none" stroke="#000" stroke-width="0.9"/>
<circle cx="409.29" cy="290.22" r="2.6" fill="none" stroke="#000" stroke-width="0.9"/>
<circle cx="421.33" cy="290.22" r="2.6" fill="none" stroke="#000" stroke-width="0.9"/>
<circle cx="433.38" cy="290.22" r="2.6" fill="none" stroke="#000" stroke-width="0.9"/>
<polyline points="312.92,290.56 324.97,290.56 337.01,290.56 349.06,290.56 361.10,290.56 373.15,290.56 385.20,290.56 397.24,290.56" fill="none" stroke="#000" stroke-width="1.15" stroke-linejoin="round"/>
<circle cx="312.92" cy="290.56" r="2.6" fill="none" stroke="#000" stroke-width="0.9"/>
<circle cx="324.97" cy="290.56" r="2.6" fill="none" stroke="#000" stroke-width="0.9"/>
<circle cx="337.01" cy="290.56" r="2.6" fill="none" stroke="#000" stroke-width="0.9"/>
<circle cx="349.06" cy="290.56" r="2.6" fill="none" stroke="#000" stroke-width="0.9"/>
<circle cx="361.10" cy="290.56" r="2.6" fill="none" stroke="#000" stroke-width="0.9"/>
<circle cx="373.15" cy="290.56" r="2.6" fill="none" stroke="#000" stroke-width="0.9"/>
<circle cx="385.20" cy="290.56" r="2.6" fill="none" stroke="#000" stroke-width="0.9"/>
<circle cx="397.24" cy="290.56" r="2.6" fill="none" stroke="#000" stroke-width="0.9"/>
<polyline points="312.92,280.76 324.97,273.66 337.01,273.32 349.06,272.31 361.10,263.86 373.15,252.03 385.20,233.44" fill="none" stroke="#000" stroke-width="1.55" stroke-dasharray="3.2,1.8" stroke-linejoin="round"/>
<path d="M312.92,277.66 L316.02,280.76 L312.92,283.86 L309.82,280.76 Z" fill="#000"/>
<path d="M324.97,270.56 L328.07,273.66 L324.97,276.76 L321.87,273.66 Z" fill="#000"/>
<path d="M337.01,270.22 L340.11,273.32 L337.01,276.42 L333.91,273.32 Z" fill="#000"/>
<path d="M349.06,269.21 L352.16,272.31 L349.06,275.41 L345.96,272.31 Z" fill="#000"/>
<path d="M361.10,260.76 L364.20,263.86 L361.10,266.96 L358.00,263.86 Z" fill="#000"/>
<path d="M373.15,248.93 L376.25,252.03 L373.15,255.13 L370.05,252.03 Z" fill="#000"/>
<path d="M385.20,230.34 L388.30,233.44 L385.20,236.54 L382.10,233.44 Z" fill="#000"/>
<polyline points="312.92,289.21 324.97,287.52 337.01,284.14 349.06,282.45 361.10,277.38 373.15,267.24 385.20,275.69 397.24,267.24" fill="none" stroke="#000" stroke-width="1.55" stroke-dasharray="3.2,1.8" stroke-linejoin="round"/>
<path d="M312.92,286.11 L316.02,289.21 L312.92,292.31 L309.82,289.21 Z" fill="#000"/>
<path d="M324.97,284.42 L328.07,287.52 L324.97,290.62 L321.87,287.52 Z" fill="#000"/>
<path d="M337.01,281.04 L340.11,284.14 L337.01,287.24 L333.91,284.14 Z" fill="#000"/>
<path d="M349.06,279.35 L352.16,282.45 L349.06,285.55 L345.96,282.45 Z" fill="#000"/>
<path d="M361.10,274.28 L364.20,277.38 L361.10,280.48 L358.00,277.38 Z" fill="#000"/>
<path d="M373.15,264.14 L376.25,267.24 L373.15,270.34 L370.05,267.24 Z" fill="#000"/>
<path d="M385.20,272.59 L388.30,275.69 L385.20,278.79 L382.10,275.69 Z" fill="#000"/>
<path d="M397.24,264.14 L400.34,267.24 L397.24,270.34 L394.14,267.24 Z" fill="#000"/>
<polyline points="312.92,290.22 324.97,289.21 337.01,285.83 349.06,285.83 361.10,286.84 373.15,285.83 385.20,284.82" fill="none" stroke="#000" stroke-width="1.55" stroke-dasharray="3.2,1.8" stroke-linejoin="round"/>
<path d="M312.92,287.12 L316.02,290.22 L312.92,293.32 L309.82,290.22 Z" fill="#000"/>
<path d="M324.97,286.11 L328.07,289.21 L324.97,292.31 L321.87,289.21 Z" fill="#000"/>
<path d="M337.01,282.73 L340.11,285.83 L337.01,288.93 L333.91,285.83 Z" fill="#000"/>
<path d="M349.06,282.73 L352.16,285.83 L349.06,288.93 L345.96,285.83 Z" fill="#000"/>
<path d="M361.10,283.74 L364.20,286.84 L361.10,289.94 L358.00,286.84 Z" fill="#000"/>
<path d="M373.15,282.73 L376.25,285.83 L373.15,288.93 L370.05,285.83 Z" fill="#000"/>
<path d="M385.20,281.72 L388.30,284.82 L385.20,287.92 L382.10,284.82 Z" fill="#000"/>
<polyline points="312.92,284.14 324.97,280.76 337.01,274.00 349.06,261.49 361.10,261.49 373.15,257.10 385.20,221.61 397.24,182.74" fill="none" stroke="#000" stroke-width="1.55" stroke-linejoin="round"/>
<path d="M312.92,280.74 L316.32,286.86 L309.52,286.86 Z" fill="#000"/>
<path d="M324.97,277.36 L328.37,283.48 L321.57,283.48 Z" fill="#000"/>
<path d="M337.01,270.60 L340.41,276.72 L333.61,276.72 Z" fill="#000"/>
<path d="M349.06,258.09 L352.46,264.21 L345.66,264.21 Z" fill="#000"/>
<path d="M361.10,258.09 L364.50,264.21 L357.70,264.21 Z" fill="#000"/>
<path d="M373.15,253.70 L376.55,259.82 L369.75,259.82 Z" fill="#000"/>
<path d="M385.20,218.21 L388.60,224.33 L381.80,224.33 Z" fill="#000"/>
<path d="M397.24,179.34 L400.64,185.46 L393.84,185.46 Z" fill="#000"/>
<polyline points="312.92,285.83 324.97,282.45 337.01,277.38 349.06,272.31 361.10,263.86 373.15,253.72 385.20,246.96 397.24,223.30 409.29,243.58 421.33,221.61" fill="none" stroke="#000" stroke-width="1.55" stroke-linejoin="round"/>
<path d="M312.92,282.43 L316.32,288.55 L309.52,288.55 Z" fill="#000"/>
<path d="M324.97,279.05 L328.37,285.17 L321.57,285.17 Z" fill="#000"/>
<path d="M337.01,273.98 L340.41,280.10 L333.61,280.10 Z" fill="#000"/>
<path d="M349.06,268.91 L352.46,275.03 L345.66,275.03 Z" fill="#000"/>
<path d="M361.10,260.46 L364.50,266.58 L357.70,266.58 Z" fill="#000"/>
<path d="M373.15,250.32 L376.55,256.44 L369.75,256.44 Z" fill="#000"/>
<path d="M385.20,243.56 L388.60,249.68 L381.80,249.68 Z" fill="#000"/>
<path d="M397.24,219.90 L400.64,226.02 L393.84,226.02 Z" fill="#000"/>
<path d="M409.29,240.18 L412.69,246.30 L405.89,246.30 Z" fill="#000"/>
<path d="M421.33,218.21 L424.73,224.33 L417.93,224.33 Z" fill="#000"/>
<polyline points="312.92,290.22 324.97,289.55 337.01,289.21 349.06,289.21 361.10,287.52 373.15,282.45 385.20,275.69 397.24,272.31 409.29,230.06 421.33,206.40 433.38,182.74" fill="none" stroke="#000" stroke-width="1.55" stroke-linejoin="round"/>
<path d="M312.92,286.82 L316.32,292.94 L309.52,292.94 Z" fill="#000"/>
<path d="M324.97,286.15 L328.37,292.27 L321.57,292.27 Z" fill="#000"/>
<path d="M337.01,285.81 L340.41,291.93 L333.61,291.93 Z" fill="#000"/>
<path d="M349.06,285.81 L352.46,291.93 L345.66,291.93 Z" fill="#000"/>
<path d="M361.10,284.12 L364.50,290.24 L357.70,290.24 Z" fill="#000"/>
<path d="M373.15,279.05 L376.55,285.17 L369.75,285.17 Z" fill="#000"/>
<path d="M385.20,272.29 L388.60,278.41 L381.80,278.41 Z" fill="#000"/>
<path d="M397.24,268.91 L400.64,275.03 L393.84,275.03 Z" fill="#000"/>
<path d="M409.29,226.66 L412.69,232.78 L405.89,232.78 Z" fill="#000"/>
<path d="M421.33,203.00 L424.73,209.12 L417.93,209.12 Z" fill="#000"/>
<path d="M433.38,179.34 L436.78,185.46 L429.98,185.46 Z" fill="#000"/>
<text transform="translate(271.7,330.8) rotate(-90)" font-family='"Liberation Sans", sans-serif' font-size="12.25" text-anchor="start" fill="#111" stroke="#111" stroke-width="0.3" xml:space="preserve">GFP and C-Kit  positive cells</text>
<text transform="translate(271.7,171.1) rotate(-90)" font-family='"Liberation Sans", sans-serif' font-size="12.25" text-anchor="start" fill="#111" stroke="#111" stroke-width="0.3" letter-spacing="1.8">(%)</text>
<text x="353.80" y="317.70" font-family='"Liberation Sans", sans-serif' font-size="10" text-anchor="start" font-weight="normal" fill="#111" stroke="#111" stroke-width="0.280" >months</text>
<polyline points="452.70,179.20 473.40,179.20" fill="none" stroke="#000" stroke-width="1.4" stroke-linejoin="round"/>
<path d="M463.05,176.60 L465.65,181.28 L460.45,181.28 Z" fill="#000"/>
<text x="475.20" y="181.60" font-family='"Liberation Sans", sans-serif' font-size="6.4" text-anchor="start" font-weight="normal" fill="#1a1a1a" stroke="#1a1a1a" stroke-width="0.179" >D171N (19)</text>
<polyline points="452.70,193.46 473.40,193.46" fill="none" stroke="#000" stroke-width="1.4" stroke-linejoin="round"/>
<path d="M463.05,190.86 L465.65,195.54 L460.45,195.54 Z" fill="#000"/>
<text x="475.20" y="195.86" font-family='"Liberation Sans", sans-serif' font-size="6.4" text-anchor="start" font-weight="normal" fill="#1a1a1a" stroke="#1a1a1a" stroke-width="0.179" >D171N (26)</text>
<polyline points="452.70,207.72 473.40,207.72" fill="none" stroke="#000" stroke-width="1.4" stroke-linejoin="round"/>
<path d="M463.05,205.12 L465.65,209.80 L460.45,209.80 Z" fill="#000"/>
<text x="475.20" y="210.12" font-family='"Liberation Sans", sans-serif' font-size="6.4" text-anchor="start" font-weight="normal" fill="#1a1a1a" stroke="#1a1a1a" stroke-width="0.179" >D171N (22)</text>
<polyline points="452.70,221.98 473.40,221.98" fill="none" stroke="#000" stroke-width="1.4" stroke-dasharray="3.2,1.8" stroke-linejoin="round"/>
<path d="M463.05,219.48 L465.55,221.98 L463.05,224.48 L460.55,221.98 Z" fill="#000"/>
<text x="475.20" y="224.38" font-family='"Liberation Sans", sans-serif' font-size="6.4" text-anchor="start" font-weight="normal" fill="#1a1a1a" stroke="#1a1a1a" stroke-width="0.179" >S291fs (58)</text>
<polyline points="452.70,236.24 473.40,236.24" fill="none" stroke="#000" stroke-width="1.4" stroke-dasharray="3.2,1.8" stroke-linejoin="round"/>
<path d="M463.05,233.74 L465.55,236.24 L463.05,238.74 L460.55,236.24 Z" fill="#000"/>
<text x="475.20" y="238.64" font-family='"Liberation Sans", sans-serif' font-size="6.4" text-anchor="start" font-weight="normal" fill="#1a1a1a" stroke="#1a1a1a" stroke-width="0.179" >S291fs (15)</text>
<polyline points="452.70,250.50 473.40,250.50" fill="none" stroke="#000" stroke-width="1.4" stroke-dasharray="3.2,1.8" stroke-linejoin="round"/>
<path d="M463.05,248.00 L465.55,250.50 L463.05,253.00 L460.55,250.50 Z" fill="#000"/>
<text x="475.20" y="252.90" font-family='"Liberation Sans", sans-serif' font-size="6.4" text-anchor="start" font-weight="normal" fill="#1a1a1a" stroke="#1a1a1a" stroke-width="0.179" >S291fs (53)</text>
<polyline points="452.70,264.76 473.40,264.76" fill="none" stroke="#000" stroke-width="1.1" stroke-linejoin="round"/>
<circle cx="463.05" cy="264.76" r="2" fill="#fff" stroke="#000" stroke-width="0.8"/>
<line x1="461.04999999999995" y1="264.76" x2="465.04999999999995" y2="264.76" stroke="#000" stroke-width="1"/>
<text x="475.20" y="267.16" font-family='"Liberation Sans", sans-serif' font-size="6.4" text-anchor="start" font-weight="normal" fill="#1a1a1a" stroke="#1a1a1a" stroke-width="0.179" >WT (105)</text>
<polyline points="452.70,279.02 473.40,279.02" fill="none" stroke="#000" stroke-width="1.1" stroke-linejoin="round"/>
<circle cx="463.05" cy="279.02" r="2" fill="#fff" stroke="#000" stroke-width="0.8"/>
<line x1="461.04999999999995" y1="279.02" x2="465.04999999999995" y2="279.02" stroke="#000" stroke-width="1"/>
<text x="475.20" y="281.42" font-family='"Liberation Sans", sans-serif' font-size="6.4" text-anchor="start" font-weight="normal" fill="#1a1a1a" stroke="#1a1a1a" stroke-width="0.179" >WT (106)</text>
<polyline points="452.70,293.28 473.40,293.28" fill="none" stroke="#000" stroke-width="1.4" stroke-dasharray="3.2,1.8" stroke-linejoin="round"/>
<rect x="460.85" y="291.08" width="4.4" height="4.4" fill="#fff" stroke="#000" stroke-width="0.8"/>
<line x1="460.84999999999997" y1="293.28" x2="465.24999999999994" y2="293.28" stroke="#000" stroke-width="1" stroke-dasharray="1.5,1"/>
<text x="475.20" y="295.68" font-family='"Liberation Sans", sans-serif' font-size="6.4" text-anchor="start" font-weight="normal" fill="#1a1a1a" stroke="#1a1a1a" stroke-width="0.179" >empty (204)</text>
<polyline points="452.70,307.54 473.40,307.54" fill="none" stroke="#000" stroke-width="1.4" stroke-dasharray="3.2,1.8" stroke-linejoin="round"/>
<rect x="460.85" y="305.34" width="4.4" height="4.4" fill="#fff" stroke="#000" stroke-width="0.8"/>
<line x1="460.84999999999997" y1="307.53999999999996" x2="465.24999999999994" y2="307.53999999999996" stroke="#000" stroke-width="1" stroke-dasharray="1.5,1"/>
<text x="475.20" y="309.94" font-family='"Liberation Sans", sans-serif' font-size="6.4" text-anchor="start" font-weight="normal" fill="#1a1a1a" stroke="#1a1a1a" stroke-width="0.179" >empty (205)</text>
<text x="15.30" y="358.90" font-family='"Liberation Sans", sans-serif' font-size="10.6" text-anchor="start" font-weight="bold" fill="#000" stroke="#000" stroke-width="0.297" >D</text>
<path d="M21.5,373.4 V503.4 H203.5" fill="none" stroke="#b8b8b8" stroke-width="0.6"/>
<line x1="20.0" y1="503.40" x2="21.5" y2="503.40" stroke="#b0b0b0" stroke-width="0.5"/>
<text x="17.10" y="505.30" font-family='"Liberation Sans", sans-serif' font-size="4.5" text-anchor="end" font-weight="normal" fill="#333" stroke="#333" stroke-width="0.126" >0</text>
<line x1="20.0" y1="490.40" x2="21.5" y2="490.40" stroke="#b0b0b0" stroke-width="0.5"/>
<text x="17.10" y="492.30" font-family='"Liberation Sans", sans-serif' font-size="4.5" text-anchor="end" font-weight="normal" fill="#333" stroke="#333" stroke-width="0.126" >10</text>
<line x1="20.0" y1="477.40" x2="21.5" y2="477.40" stroke="#b0b0b0" stroke-width="0.5"/>
<text x="17.10" y="479.30" font-family='"Liberation Sans", sans-serif' font-size="4.5" text-anchor="end" font-weight="normal" fill="#333" stroke="#333" stroke-width="0.126" >20</text>
<line x1="20.0" y1="464.40" x2="21.5" y2="464.40" stroke="#b0b0b0" stroke-width="0.5"/>
<text x="17.10" y="466.30" font-family='"Liberation Sans", sans-serif' font-size="4.5" text-anchor="end" font-weight="normal" fill="#333" stroke="#333" stroke-width="0.126" >30</text>
<line x1="20.0" y1="451.40" x2="21.5" y2="451.40" stroke="#b0b0b0" stroke-width="0.5"/>
<text x="17.10" y="453.30" font-family='"Liberation Sans", sans-serif' font-size="4.5" text-anchor="end" font-weight="normal" fill="#333" stroke="#333" stroke-width="0.126" >40</text>
<line x1="20.0" y1="438.40" x2="21.5" y2="438.40" stroke="#b0b0b0" stroke-width="0.5"/>
<text x="17.10" y="440.30" font-family='"Liberation Sans", sans-serif' font-size="4.5" text-anchor="end" font-weight="normal" fill="#333" stroke="#333" stroke-width="0.126" >50</text>
<line x1="20.0" y1="425.40" x2="21.5" y2="425.40" stroke="#b0b0b0" stroke-width="0.5"/>
<text x="17.10" y="427.30" font-family='"Liberation Sans", sans-serif' font-size="4.5" text-anchor="end" font-weight="normal" fill="#333" stroke="#333" stroke-width="0.126" >60</text>
<line x1="20.0" y1="412.40" x2="21.5" y2="412.40" stroke="#b0b0b0" stroke-width="0.5"/>
<text x="17.10" y="414.30" font-family='"Liberation Sans", sans-serif' font-size="4.5" text-anchor="end" font-weight="normal" fill="#333" stroke="#333" stroke-width="0.126" >70</text>
<line x1="20.0" y1="399.40" x2="21.5" y2="399.40" stroke="#b0b0b0" stroke-width="0.5"/>
<text x="17.10" y="401.30" font-family='"Liberation Sans", sans-serif' font-size="4.5" text-anchor="end" font-weight="normal" fill="#333" stroke="#333" stroke-width="0.126" >80</text>
<line x1="20.0" y1="386.40" x2="21.5" y2="386.40" stroke="#b0b0b0" stroke-width="0.5"/>
<text x="17.10" y="388.30" font-family='"Liberation Sans", sans-serif' font-size="4.5" text-anchor="end" font-weight="normal" fill="#333" stroke="#333" stroke-width="0.126" >90</text>
<line x1="20.0" y1="373.40" x2="21.5" y2="373.40" stroke="#b0b0b0" stroke-width="0.5"/>
<text x="17.10" y="375.30" font-family='"Liberation Sans", sans-serif' font-size="4.5" text-anchor="end" font-weight="normal" fill="#333" stroke="#333" stroke-width="0.126" >100</text>
<line x1="21.50" y1="503.4" x2="21.50" y2="504.9" stroke="#b0b0b0" stroke-width="0.5"/>
<text x="21.50" y="513.70" font-family='"Liberation Sans", sans-serif' font-size="4.5" text-anchor="middle" font-weight="normal" fill="#333" stroke="#333" stroke-width="0.126" >0</text>
<line x1="44.25" y1="503.4" x2="44.25" y2="504.9" stroke="#b0b0b0" stroke-width="0.5"/>
<text x="44.25" y="513.70" font-family='"Liberation Sans", sans-serif' font-size="4.5" text-anchor="middle" font-weight="normal" fill="#333" stroke="#333" stroke-width="0.126" >50</text>
<line x1="67.00" y1="503.4" x2="67.00" y2="504.9" stroke="#b0b0b0" stroke-width="0.5"/>
<text x="67.00" y="513.70" font-family='"Liberation Sans", sans-serif' font-size="4.5" text-anchor="middle" font-weight="normal" fill="#333" stroke="#333" stroke-width="0.126" >100</text>
<line x1="89.75" y1="503.4" x2="89.75" y2="504.9" stroke="#b0b0b0" stroke-width="0.5"/>
<text x="89.75" y="513.70" font-family='"Liberation Sans", sans-serif' font-size="4.5" text-anchor="middle" font-weight="normal" fill="#333" stroke="#333" stroke-width="0.126" >150</text>
<line x1="112.50" y1="503.4" x2="112.50" y2="504.9" stroke="#b0b0b0" stroke-width="0.5"/>
<text x="112.50" y="513.70" font-family='"Liberation Sans", sans-serif' font-size="4.5" text-anchor="middle" font-weight="normal" fill="#333" stroke="#333" stroke-width="0.126" >200</text>
<line x1="135.25" y1="503.4" x2="135.25" y2="504.9" stroke="#b0b0b0" stroke-width="0.5"/>
<text x="135.25" y="513.70" font-family='"Liberation Sans", sans-serif' font-size="4.5" text-anchor="middle" font-weight="normal" fill="#333" stroke="#333" stroke-width="0.126" >250</text>
<line x1="158.00" y1="503.4" x2="158.00" y2="504.9" stroke="#b0b0b0" stroke-width="0.5"/>
<text x="158.00" y="513.70" font-family='"Liberation Sans", sans-serif' font-size="4.5" text-anchor="middle" font-weight="normal" fill="#333" stroke="#333" stroke-width="0.126" >300</text>
<line x1="180.75" y1="503.4" x2="180.75" y2="504.9" stroke="#b0b0b0" stroke-width="0.5"/>
<text x="180.75" y="513.70" font-family='"Liberation Sans", sans-serif' font-size="4.5" text-anchor="middle" font-weight="normal" fill="#333" stroke="#333" stroke-width="0.126" >350</text>
<line x1="203.50" y1="503.4" x2="203.50" y2="504.9" stroke="#b0b0b0" stroke-width="0.5"/>
<text x="203.50" y="513.70" font-family='"Liberation Sans", sans-serif' font-size="4.5" text-anchor="middle" font-weight="normal" fill="#333" stroke="#333" stroke-width="0.126" >400</text>
<polyline points="144.35,373.40 144.35,385.10 183.03,385.10 183.03,397.45 203.50,397.45" fill="none" stroke="#000" stroke-width="1.1" stroke-dasharray="2,1.2"/>
<polyline points="74.73,373.40 74.73,386.40 87.47,386.40 87.47,399.40 96.58,399.40 96.58,412.40 125.70,412.40 125.70,425.40 137.52,425.40 137.52,438.40 150.27,438.40 150.27,451.40 159.36,451.40 159.36,464.40 188.94,464.40 188.94,477.40 188.94,477.40 188.94,490.40 203.50,490.40" fill="none" stroke="#000" stroke-width="1.1" stroke-dasharray="2,1.2"/>
<polyline points="78.38,373.40 78.38,378.60 107.04,378.60 107.04,383.15 125.70,383.15 125.70,388.35 128.43,388.35 128.43,392.90 132.98,392.90 132.98,398.10 158.00,398.10 158.00,403.30 159.36,403.30 159.36,408.50 160.28,408.50 160.28,418.25 162.55,418.25 162.55,422.80 163.46,422.80 163.46,428.00 166.19,428.00 166.19,433.20 169.83,433.20 169.83,438.40 172.10,438.40 172.10,443.60 173.02,443.60 173.02,448.80 174.38,448.80 174.38,453.35 176.66,453.35 176.66,457.90 179.39,457.90 179.39,463.10 196.68,463.10 196.68,468.30 203.50,468.30" fill="none" stroke="#000" stroke-width="1.1"/>
<line x1="21.5" y1="373.40" x2="203.50" y2="373.40" stroke="#808080" stroke-width="1.2"/>
<rect x="143.25" y="372.40" width="2.2" height="2.0" fill="#aaa" stroke="#666" stroke-width="0.5"/>
<rect x="155.99" y="372.40" width="2.2" height="2.0" fill="#aaa" stroke="#666" stroke-width="0.5"/>
<rect x="197.85" y="372.40" width="2.2" height="2.0" fill="#aaa" stroke="#666" stroke-width="0.5"/>
<rect x="200.12" y="372.40" width="2.2" height="2.0" fill="#aaa" stroke="#666" stroke-width="0.5"/>
<rect x="202.40" y="372.40" width="2.2" height="2.0" fill="#aaa" stroke="#666" stroke-width="0.5"/>
<rect x="20.60" y="372.50" width="1.8" height="1.8" fill="#ccc" stroke="#222" stroke-width="0.5"/>
<rect x="143.45" y="384.20" width="1.8" height="1.8" fill="#ccc" stroke="#222" stroke-width="0.5"/>
<rect x="182.12" y="396.55" width="1.8" height="1.8" fill="#ccc" stroke="#222" stroke-width="0.5"/>
<rect x="143.45" y="372.50" width="1.8" height="1.8" fill="#ccc" stroke="#222" stroke-width="0.5"/>
<rect x="182.12" y="384.20" width="1.8" height="1.8" fill="#ccc" stroke="#222" stroke-width="0.5"/>
<path d="M21.50,372.00 L22.90,374.50 L20.10,374.50 Z" fill="#000"/>
<path d="M74.73,385.00 L76.14,387.50 L73.33,387.50 Z" fill="#000"/>
<path d="M87.47,398.00 L88.88,400.50 L86.07,400.50 Z" fill="#000"/>
<path d="M96.58,411.00 L97.98,413.50 L95.17,413.50 Z" fill="#000"/>
<path d="M125.70,424.00 L127.10,426.50 L124.30,426.50 Z" fill="#000"/>
<path d="M137.52,437.00 L138.92,439.50 L136.12,439.50 Z" fill="#000"/>
<path d="M150.27,450.00 L151.67,452.50 L148.87,452.50 Z" fill="#000"/>
<path d="M159.36,463.00 L160.76,465.50 L157.96,465.50 Z" fill="#000"/>
<path d="M188.94,476.00 L190.34,478.50 L187.54,478.50 Z" fill="#000"/>
<path d="M188.94,489.00 L190.34,491.50 L187.54,491.50 Z" fill="#000"/>
<path d="M74.73,372.00 L76.14,374.50 L73.33,374.50 Z" fill="#000"/>
<path d="M87.47,385.00 L88.88,387.50 L86.07,387.50 Z" fill="#000"/>
<path d="M96.58,398.00 L97.98,400.50 L95.17,400.50 Z" fill="#000"/>
<path d="M125.70,411.00 L127.10,413.50 L124.30,413.50 Z" fill="#000"/>
<path d="M137.52,424.00 L138.92,426.50 L136.12,426.50 Z" fill="#000"/>
<path d="M150.27,437.00 L151.67,439.50 L148.87,439.50 Z" fill="#000"/>
<path d="M159.36,450.00 L160.76,452.50 L157.96,452.50 Z" fill="#000"/>
<path d="M188.94,463.00 L190.34,465.50 L187.54,465.50 Z" fill="#000"/>
<path d="M188.94,476.00 L190.34,478.50 L187.54,478.50 Z" fill="#000"/>
<path d="M203.50,489.00 L204.90,491.50 L202.10,491.50 Z" fill="#000"/>
<rect x="20.45" y="372.35" width="2.1" height="2.1" fill="#000"/>
<rect x="77.33" y="377.55" width="2.1" height="2.1" fill="#000"/>
<rect x="105.99" y="382.10" width="2.1" height="2.1" fill="#000"/>
<rect x="124.65" y="387.30" width="2.1" height="2.1" fill="#000"/>
<rect x="127.38" y="391.85" width="2.1" height="2.1" fill="#000"/>
<rect x="131.93" y="397.05" width="2.1" height="2.1" fill="#000"/>
<rect x="156.95" y="402.25" width="2.1" height="2.1" fill="#000"/>
<rect x="158.31" y="407.45" width="2.1" height="2.1" fill="#000"/>
<rect x="159.22" y="417.20" width="2.1" height="2.1" fill="#000"/>
<rect x="161.50" y="421.75" width="2.1" height="2.1" fill="#000"/>
<rect x="162.41" y="426.95" width="2.1" height="2.1" fill="#000"/>
<rect x="165.14" y="432.15" width="2.1" height="2.1" fill="#000"/>
<rect x="168.78" y="437.35" width="2.1" height="2.1" fill="#000"/>
<rect x="171.05" y="442.55" width="2.1" height="2.1" fill="#000"/>
<rect x="171.97" y="447.75" width="2.1" height="2.1" fill="#000"/>
<rect x="173.33" y="452.30" width="2.1" height="2.1" fill="#000"/>
<rect x="175.60" y="456.85" width="2.1" height="2.1" fill="#000"/>
<rect x="178.34" y="462.05" width="2.1" height="2.1" fill="#000"/>
<rect x="195.62" y="467.25" width="2.1" height="2.1" fill="#000"/>
<rect x="77.33" y="372.35" width="2.1" height="2.1" fill="#000"/>
<rect x="105.99" y="377.55" width="2.1" height="2.1" fill="#000"/>
<rect x="124.65" y="382.10" width="2.1" height="2.1" fill="#000"/>
<rect x="127.38" y="387.30" width="2.1" height="2.1" fill="#000"/>
<rect x="131.93" y="391.85" width="2.1" height="2.1" fill="#000"/>
<rect x="156.95" y="397.05" width="2.1" height="2.1" fill="#000"/>
<rect x="158.31" y="402.25" width="2.1" height="2.1" fill="#000"/>
<rect x="159.22" y="407.45" width="2.1" height="2.1" fill="#000"/>
<rect x="161.50" y="417.20" width="2.1" height="2.1" fill="#000"/>
<rect x="162.41" y="421.75" width="2.1" height="2.1" fill="#000"/>
<rect x="165.14" y="426.95" width="2.1" height="2.1" fill="#000"/>
<rect x="168.78" y="432.15" width="2.1" height="2.1" fill="#000"/>
<rect x="171.05" y="437.35" width="2.1" height="2.1" fill="#000"/>
<rect x="171.97" y="442.55" width="2.1" height="2.1" fill="#000"/>
<rect x="173.33" y="447.75" width="2.1" height="2.1" fill="#000"/>
<rect x="175.60" y="452.30" width="2.1" height="2.1" fill="#000"/>
<rect x="178.34" y="456.85" width="2.1" height="2.1" fill="#000"/>
<rect x="195.62" y="462.05" width="2.1" height="2.1" fill="#000"/>
<text transform="translate(5.5,438.2) rotate(-90)" font-family='"Liberation Serif", serif' font-size="7.4" font-weight="bold" text-anchor="middle" letter-spacing="0.3" fill="#111">Survivalrate(%)</text>
<text x="112.00" y="524.00" font-family='"Liberation Serif", serif' font-size="7.2" text-anchor="middle" font-weight="bold" fill="#000" stroke="#000" stroke-width="0.202" >day</text>
<line x1="215.2" y1="401.5" x2="224.7" y2="401.5" stroke="#000" stroke-width="1"/>
<rect x="218.64999999999998" y="400.2" width="2.6" height="2.6" fill="#000"/>
<text x="225.30" y="404.00" font-family='"Liberation Serif", serif' font-size="7.6" text-anchor="start" font-weight="normal" fill="#111" stroke="#111" stroke-width="0.213" >1.D171N</text>
<line x1="215.2" y1="421.3" x2="224.7" y2="421.3" stroke="#000" stroke-width="1" stroke-dasharray="2,1.2"/>
<path d="M219.95,419.7 L221.54999999999998,422.6 L218.35,422.6 Z" fill="#000"/>
<text x="225.30" y="423.80" font-family='"Liberation Serif", serif' font-size="7.6" text-anchor="start" font-weight="normal" fill="#111" stroke="#111" stroke-width="0.213" >2.S291fs</text>
<line x1="215.2" y1="440.3" x2="224.7" y2="440.3" stroke="#000" stroke-width="1" stroke-dasharray="2,1.2"/>
<rect x="218.95" y="439.3" width="2.0" height="2.0" fill="#888" stroke="#222" stroke-width="0.5"/>
<text x="225.30" y="442.80" font-family='"Liberation Serif", serif' font-size="7.6" text-anchor="start" font-weight="normal" fill="#111" stroke="#111" stroke-width="0.213" >3.WT</text>
<line x1="215.2" y1="460.5" x2="224.7" y2="460.5" stroke="#777" stroke-width="1"/>
<rect x="218.85" y="459.5" width="2.2" height="2.0" fill="#aaa" stroke="#666" stroke-width="0.5"/>
<text x="225.30" y="463.00" font-family='"Liberation Serif", serif' font-size="7.6" text-anchor="start" font-weight="normal" fill="#111" stroke="#111" stroke-width="0.213" >6.empty</text>
<text x="281.00" y="360.20" font-family='"Liberation Sans", sans-serif' font-size="10.6" text-anchor="start" font-weight="bold" fill="#000" stroke="#000" stroke-width="0.297" >E</text>
<path d="M290,372.3 V503.0 H474" fill="none" stroke="#b8b8b8" stroke-width="0.6"/>
<line x1="288.5" y1="503.00" x2="290" y2="503.00" stroke="#b0b0b0" stroke-width="0.5"/>
<text x="285.60" y="504.90" font-family='"Liberation Sans", sans-serif' font-size="4.9" text-anchor="end" font-weight="normal" fill="#333" stroke="#333" stroke-width="0.137" >0</text>
<line x1="288.5" y1="489.93" x2="290" y2="489.93" stroke="#b0b0b0" stroke-width="0.5"/>
<text x="285.60" y="491.83" font-family='"Liberation Sans", sans-serif' font-size="4.9" text-anchor="end" font-weight="normal" fill="#333" stroke="#333" stroke-width="0.137" >10</text>
<line x1="288.5" y1="476.86" x2="290" y2="476.86" stroke="#b0b0b0" stroke-width="0.5"/>
<text x="285.60" y="478.76" font-family='"Liberation Sans", sans-serif' font-size="4.9" text-anchor="end" font-weight="normal" fill="#333" stroke="#333" stroke-width="0.137" >20</text>
<line x1="288.5" y1="463.79" x2="290" y2="463.79" stroke="#b0b0b0" stroke-width="0.5"/>
<text x="285.60" y="465.69" font-family='"Liberation Sans", sans-serif' font-size="4.9" text-anchor="end" font-weight="normal" fill="#333" stroke="#333" stroke-width="0.137" >30</text>
<line x1="288.5" y1="450.72" x2="290" y2="450.72" stroke="#b0b0b0" stroke-width="0.5"/>
<text x="285.60" y="452.62" font-family='"Liberation Sans", sans-serif' font-size="4.9" text-anchor="end" font-weight="normal" fill="#333" stroke="#333" stroke-width="0.137" >40</text>
<line x1="288.5" y1="437.65" x2="290" y2="437.65" stroke="#b0b0b0" stroke-width="0.5"/>
<text x="285.60" y="439.55" font-family='"Liberation Sans", sans-serif' font-size="4.9" text-anchor="end" font-weight="normal" fill="#333" stroke="#333" stroke-width="0.137" >50</text>
<line x1="288.5" y1="424.58" x2="290" y2="424.58" stroke="#b0b0b0" stroke-width="0.5"/>
<text x="285.60" y="426.48" font-family='"Liberation Sans", sans-serif' font-size="4.9" text-anchor="end" font-weight="normal" fill="#333" stroke="#333" stroke-width="0.137" >60</text>
<line x1="288.5" y1="411.51" x2="290" y2="411.51" stroke="#b0b0b0" stroke-width="0.5"/>
<text x="285.60" y="413.41" font-family='"Liberation Sans", sans-serif' font-size="4.9" text-anchor="end" font-weight="normal" fill="#333" stroke="#333" stroke-width="0.137" >70</text>
<line x1="288.5" y1="398.44" x2="290" y2="398.44" stroke="#b0b0b0" stroke-width="0.5"/>
<text x="285.60" y="400.34" font-family='"Liberation Sans", sans-serif' font-size="4.9" text-anchor="end" font-weight="normal" fill="#333" stroke="#333" stroke-width="0.137" >80</text>
<line x1="288.5" y1="385.37" x2="290" y2="385.37" stroke="#b0b0b0" stroke-width="0.5"/>
<text x="285.60" y="387.27" font-family='"Liberation Sans", sans-serif' font-size="4.9" text-anchor="end" font-weight="normal" fill="#333" stroke="#333" stroke-width="0.137" >90</text>
<line x1="288.5" y1="372.30" x2="290" y2="372.30" stroke="#b0b0b0" stroke-width="0.5"/>
<text x="285.60" y="374.20" font-family='"Liberation Sans", sans-serif' font-size="4.9" text-anchor="end" font-weight="normal" fill="#333" stroke="#333" stroke-width="0.137" >100</text>
<line x1="290.00" y1="503.0" x2="290.00" y2="504.5" stroke="#b0b0b0" stroke-width="0.5"/>
<text x="290.00" y="513.30" font-family='"Liberation Sans", sans-serif' font-size="4.9" text-anchor="middle" font-weight="normal" fill="#333" stroke="#333" stroke-width="0.137" >0</text>
<line x1="313.00" y1="503.0" x2="313.00" y2="504.5" stroke="#b0b0b0" stroke-width="0.5"/>
<text x="313.00" y="513.30" font-family='"Liberation Sans", sans-serif' font-size="4.9" text-anchor="middle" font-weight="normal" fill="#333" stroke="#333" stroke-width="0.137" >50</text>
<line x1="336.00" y1="503.0" x2="336.00" y2="504.5" stroke="#b0b0b0" stroke-width="0.5"/>
<text x="336.00" y="513.30" font-family='"Liberation Sans", sans-serif' font-size="4.9" text-anchor="middle" font-weight="normal" fill="#333" stroke="#333" stroke-width="0.137" >100</text>
<line x1="359.00" y1="503.0" x2="359.00" y2="504.5" stroke="#b0b0b0" stroke-width="0.5"/>
<text x="359.00" y="513.30" font-family='"Liberation Sans", sans-serif' font-size="4.9" text-anchor="middle" font-weight="normal" fill="#333" stroke="#333" stroke-width="0.137" >150</text>
<line x1="382.00" y1="503.0" x2="382.00" y2="504.5" stroke="#b0b0b0" stroke-width="0.5"/>
<text x="382.00" y="513.30" font-family='"Liberation Sans", sans-serif' font-size="4.9" text-anchor="middle" font-weight="normal" fill="#333" stroke="#333" stroke-width="0.137" >200</text>
<line x1="405.00" y1="503.0" x2="405.00" y2="504.5" stroke="#b0b0b0" stroke-width="0.5"/>
<text x="405.00" y="513.30" font-family='"Liberation Sans", sans-serif' font-size="4.9" text-anchor="middle" font-weight="normal" fill="#333" stroke="#333" stroke-width="0.137" >250</text>
<line x1="428.00" y1="503.0" x2="428.00" y2="504.5" stroke="#b0b0b0" stroke-width="0.5"/>
<text x="428.00" y="513.30" font-family='"Liberation Sans", sans-serif' font-size="4.9" text-anchor="middle" font-weight="normal" fill="#333" stroke="#333" stroke-width="0.137" >300</text>
<line x1="451.00" y1="503.0" x2="451.00" y2="504.5" stroke="#b0b0b0" stroke-width="0.5"/>
<text x="451.00" y="513.30" font-family='"Liberation Sans", sans-serif' font-size="4.9" text-anchor="middle" font-weight="normal" fill="#333" stroke="#333" stroke-width="0.137" >350</text>
<line x1="474.00" y1="503.0" x2="474.00" y2="504.5" stroke="#b0b0b0" stroke-width="0.5"/>
<text x="474.00" y="513.30" font-family='"Liberation Sans", sans-serif' font-size="4.9" text-anchor="middle" font-weight="normal" fill="#333" stroke="#333" stroke-width="0.137" >400</text>
<polyline points="317.60,372.30 317.60,385.37 324.04,385.37 324.04,398.44 328.18,398.44 328.18,424.58 330.48,424.58 330.48,437.65 331.40,437.65 331.40,450.72 339.68,450.72 339.68,463.79 340.60,463.79 340.60,476.86 353.48,476.86 353.48,489.93 362.68,489.93 362.68,503.00 362.68,503.00" fill="none" stroke="#000" stroke-width="1.1" stroke-dasharray="2,1.2"/>
<polyline points="347.50,372.30 347.50,377.53 376.48,377.53 376.48,382.10 395.34,382.10 395.34,387.33 398.10,387.33 398.10,391.91 402.70,391.91 402.70,397.13 428.00,397.13 428.00,402.36 429.38,402.36 429.38,407.59 430.30,407.59 430.30,417.39 432.60,417.39 432.60,421.97 433.52,421.97 433.52,427.19 436.28,427.19 436.28,432.42 439.96,432.42 439.96,437.65 442.26,437.65 442.26,442.88 443.18,442.88 443.18,448.11 444.56,448.11 444.56,452.68 446.86,452.68 446.86,457.25 449.62,457.25 449.62,462.48 467.10,462.48 467.10,467.71 474.00,467.71" fill="none" stroke="#000" stroke-width="1.1"/>
<line x1="290" y1="372.30" x2="474.00" y2="372.30" stroke="#808080" stroke-width="1.2"/>
<rect x="358.82" y="371.30" width="2.2" height="2.0" fill="#aaa" stroke="#666" stroke-width="0.5"/>
<rect x="360.66" y="371.30" width="2.2" height="2.0" fill="#aaa" stroke="#666" stroke-width="0.5"/>
<rect x="362.50" y="371.30" width="2.2" height="2.0" fill="#aaa" stroke="#666" stroke-width="0.5"/>
<rect x="369.86" y="371.30" width="2.2" height="2.0" fill="#aaa" stroke="#666" stroke-width="0.5"/>
<rect x="371.70" y="371.30" width="2.2" height="2.0" fill="#aaa" stroke="#666" stroke-width="0.5"/>
<rect x="375.84" y="371.30" width="2.2" height="2.0" fill="#aaa" stroke="#666" stroke-width="0.5"/>
<rect x="378.14" y="371.30" width="2.2" height="2.0" fill="#aaa" stroke="#666" stroke-width="0.5"/>
<rect x="395.16" y="371.30" width="2.2" height="2.0" fill="#aaa" stroke="#666" stroke-width="0.5"/>
<rect x="397.46" y="371.30" width="2.2" height="2.0" fill="#aaa" stroke="#666" stroke-width="0.5"/>
<rect x="399.76" y="371.30" width="2.2" height="2.0" fill="#aaa" stroke="#666" stroke-width="0.5"/>
<rect x="468.76" y="371.30" width="2.2" height="2.0" fill="#aaa" stroke="#666" stroke-width="0.5"/>
<rect x="470.60" y="371.30" width="2.2" height="2.0" fill="#aaa" stroke="#666" stroke-width="0.5"/>
<rect x="472.44" y="371.30" width="2.2" height="2.0" fill="#aaa" stroke="#666" stroke-width="0.5"/>
<circle cx="290.00" cy="372.30" r="1.55" fill="#000"/>
<circle cx="317.60" cy="385.37" r="1.55" fill="#000"/>
<circle cx="324.04" cy="398.44" r="1.55" fill="#000"/>
<circle cx="328.18" cy="424.58" r="1.55" fill="#000"/>
<circle cx="330.48" cy="437.65" r="1.55" fill="#000"/>
<circle cx="331.40" cy="450.72" r="1.55" fill="#000"/>
<circle cx="339.68" cy="463.79" r="1.55" fill="#000"/>
<circle cx="340.60" cy="476.86" r="1.55" fill="#000"/>
<circle cx="353.48" cy="489.93" r="1.55" fill="#000"/>
<circle cx="362.68" cy="503.00" r="1.55" fill="#000"/>
<circle cx="317.60" cy="372.30" r="1.55" fill="#000"/>
<circle cx="324.04" cy="385.37" r="1.55" fill="#000"/>
<circle cx="328.18" cy="398.44" r="1.55" fill="#000"/>
<circle cx="330.48" cy="424.58" r="1.55" fill="#000"/>
<circle cx="331.40" cy="437.65" r="1.55" fill="#000"/>
<circle cx="339.68" cy="450.72" r="1.55" fill="#000"/>
<circle cx="340.60" cy="463.79" r="1.55" fill="#000"/>
<circle cx="353.48" cy="476.86" r="1.55" fill="#000"/>
<circle cx="362.68" cy="489.93" r="1.55" fill="#000"/>
<rect x="288.95" y="371.25" width="2.1" height="2.1" fill="#000"/>
<rect x="346.45" y="376.48" width="2.1" height="2.1" fill="#000"/>
<rect x="375.43" y="381.05" width="2.1" height="2.1" fill="#000"/>
<rect x="394.29" y="386.28" width="2.1" height="2.1" fill="#000"/>
<rect x="397.05" y="390.86" width="2.1" height="2.1" fill="#000"/>
<rect x="401.65" y="396.08" width="2.1" height="2.1" fill="#000"/>
<rect x="426.95" y="401.31" width="2.1" height="2.1" fill="#000"/>
<rect x="428.33" y="406.54" width="2.1" height="2.1" fill="#000"/>
<rect x="429.25" y="416.34" width="2.1" height="2.1" fill="#000"/>
<rect x="431.55" y="420.92" width="2.1" height="2.1" fill="#000"/>
<rect x="432.47" y="426.14" width="2.1" height="2.1" fill="#000"/>
<rect x="435.23" y="431.37" width="2.1" height="2.1" fill="#000"/>
<rect x="438.91" y="436.60" width="2.1" height="2.1" fill="#000"/>
<rect x="441.21" y="441.83" width="2.1" height="2.1" fill="#000"/>
<rect x="442.13" y="447.06" width="2.1" height="2.1" fill="#000"/>
<rect x="443.51" y="451.63" width="2.1" height="2.1" fill="#000"/>
<rect x="445.81" y="456.20" width="2.1" height="2.1" fill="#000"/>
<rect x="448.57" y="461.43" width="2.1" height="2.1" fill="#000"/>
<rect x="466.05" y="466.66" width="2.1" height="2.1" fill="#000"/>
<rect x="346.45" y="371.25" width="2.1" height="2.1" fill="#000"/>
<rect x="375.43" y="376.48" width="2.1" height="2.1" fill="#000"/>
<rect x="394.29" y="381.05" width="2.1" height="2.1" fill="#000"/>
<rect x="397.05" y="386.28" width="2.1" height="2.1" fill="#000"/>
<rect x="401.65" y="390.86" width="2.1" height="2.1" fill="#000"/>
<rect x="426.95" y="396.08" width="2.1" height="2.1" fill="#000"/>
<rect x="428.33" y="401.31" width="2.1" height="2.1" fill="#000"/>
<rect x="429.25" y="406.54" width="2.1" height="2.1" fill="#000"/>
<rect x="431.55" y="416.34" width="2.1" height="2.1" fill="#000"/>
<rect x="432.47" y="420.92" width="2.1" height="2.1" fill="#000"/>
<rect x="435.23" y="426.14" width="2.1" height="2.1" fill="#000"/>
<rect x="438.91" y="431.37" width="2.1" height="2.1" fill="#000"/>
<rect x="441.21" y="436.60" width="2.1" height="2.1" fill="#000"/>
<rect x="442.13" y="441.83" width="2.1" height="2.1" fill="#000"/>
<rect x="443.51" y="447.06" width="2.1" height="2.1" fill="#000"/>
<rect x="445.81" y="451.63" width="2.1" height="2.1" fill="#000"/>
<rect x="448.57" y="456.20" width="2.1" height="2.1" fill="#000"/>
<rect x="466.05" y="461.43" width="2.1" height="2.1" fill="#000"/>
<text transform="translate(273.8,437.5) rotate(-90)" font-family='"Liberation Serif", serif' font-size="7.3" font-weight="bold" text-anchor="middle" letter-spacing="0" fill="#111">Survival rate (%)</text>
<text x="382.00" y="524.00" font-family='"Liberation Serif", serif' font-size="7.2" text-anchor="middle" font-weight="bold" fill="#000" stroke="#000" stroke-width="0.202" >day</text>
<line x1="476.6" y1="404" x2="486.1" y2="404" stroke="#000" stroke-width="1"/>
<rect x="480.05" y="402.7" width="2.6" height="2.6" fill="#000"/>
<text x="486.70" y="406.50" font-family='"Liberation Serif", serif' font-size="7.6" text-anchor="start" font-weight="normal" fill="#111" stroke="#111" stroke-width="0.213" >1.D171N</text>
<line x1="476.6" y1="421.6" x2="486.1" y2="421.6" stroke="#777" stroke-width="1"/>
<rect x="480.25" y="420.6" width="2.2" height="2.0" fill="#aaa" stroke="#666" stroke-width="0.5"/>
<text x="486.70" y="424.10" font-family='"Liberation Serif", serif' font-size="7.6" text-anchor="start" font-weight="normal" fill="#111" stroke="#111" stroke-width="0.213" >2. Evi1</text>
<line x1="476.6" y1="438" x2="486.1" y2="438" stroke="#000" stroke-width="1" stroke-dasharray="2,1.2"/>
<circle cx="481.35" cy="438" r="1.5" fill="#000"/>
<text x="486.70" y="440.50" font-family='"Liberation Serif", serif' font-size="7.6" text-anchor="start" font-weight="normal" fill="#111" stroke="#111" stroke-width="0.213" >3.D171N +</text>
<text x="486.70" y="448.50" font-family='"Liberation Serif", serif' font-size="7.6" text-anchor="start" font-weight="normal" fill="#111" stroke="#111" stroke-width="0.213" >Evi1</text>
<line x1="476.6" y1="456.2" x2="486.1" y2="456.2" stroke="#777" stroke-width="1"/>
<rect x="480.25" y="455.2" width="2.2" height="2.0" fill="#aaa" stroke="#666" stroke-width="0.5"/>
<text x="486.70" y="458.70" font-family='"Liberation Serif", serif' font-size="7.6" text-anchor="start" font-weight="normal" fill="#111" stroke="#111" stroke-width="0.213" >4.empty</text>
</svg>
</body></html>
